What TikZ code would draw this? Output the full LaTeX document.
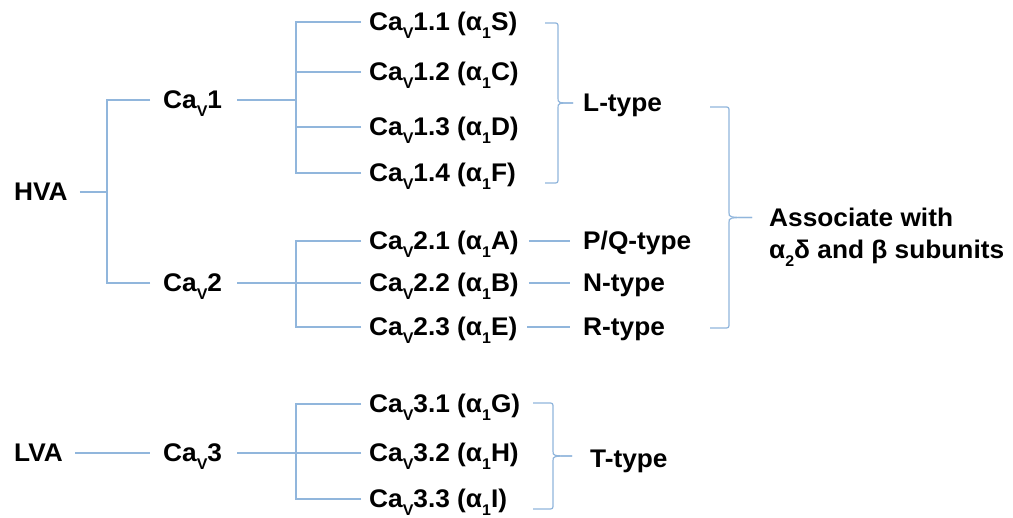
\documentclass[tikz,border=0pt]{standalone}
\usepackage{fontspec}
\setmainfont{Liberation Sans}[FakeStretch=1.03]
\definecolor{lnc}{RGB}{145,182,220}
\newcommand\mysub[1]{\raisebox{-0.28em}{\fontsize{15.5}{15.5}\selectfont #1}}
\newcommand\mybrace[5]{%
  \pgfmathsetmacro\ym{(#3+#4)/2}%
  \draw[ln] (#1,#3) -- ({#2-5},#3) .. controls (#2,#3) .. (#2,{#3+5}) -- (#2,{\ym-5}) .. controls (#2,\ym) .. (#5,\ym);
  \draw[ln] (#1,#4) -- ({#2-5},#4) .. controls (#2,#4) .. (#2,{#4-5}) -- (#2,{\ym+5}) .. controls (#2,\ym) .. (#5,\ym);
}
\begin{document}
\begin{tikzpicture}[x=1pt,y=-1pt,
  ln/.style={draw=lnc,line width=1.2pt},
  lbl/.style={anchor=west,inner sep=0pt,text height=18pt,text depth=0pt,
    font=\fontsize{25.5}{30}\selectfont\bfseries}]
\useasboundingbox[fill=white] (0,0) rectangle (1013,518);
% nodes
\node[lbl] (hva) at (14,192) {HVA};
\node[lbl] (cav1) at (163,100) {Ca\mysub{V}1};
\node[lbl] (cav2) at (163,283) {Ca\mysub{V}2};
\node[lbl] (c11) at (369,22) {Ca\mysub{V}1.1 (α\mysub{1}S)};
\node[lbl] (c12) at (369,72) {Ca\mysub{V}1.2 (α\mysub{1}C)};
\node[lbl] (c13) at (369,127) {Ca\mysub{V}1.3 (α\mysub{1}D)};
\node[lbl] (c14) at (369,173) {Ca\mysub{V}1.4 (α\mysub{1}F)};
\node[lbl] (c21) at (369,241) {Ca\mysub{V}2.1 (α\mysub{1}A)};
\node[lbl] (c22) at (369,283) {Ca\mysub{V}2.2 (α\mysub{1}B)};
\node[lbl] (c23) at (369,327) {Ca\mysub{V}2.3 (α\mysub{1}E)};
\node[lbl] (lt) at (583,103) {L-type};
\node[lbl] (pq) at (583,241) {P/Q-type};
\node[lbl] (nt) at (583,283) {N-type};
\node[lbl] (rt) at (583,327) {R-type};
\node[lbl] (as1) at (769,218) {Associate with};
\node[lbl] (as2) at (769,250) {α\mysub{2}δ and β subunits};
\node[lbl] (lva) at (14,453) {LVA};
\node[lbl] (cav3) at (163,453) {Ca\mysub{V}3};
\node[lbl] (c31) at (369,404) {Ca\mysub{V}3.1 (α\mysub{1}G)};
\node[lbl] (c32) at (369,453) {Ca\mysub{V}3.2 (α\mysub{1}H)};
\node[lbl] (c33) at (369,499) {Ca\mysub{V}3.3 (α\mysub{1}I)};
\node[lbl] (tt) at (590,459) {T-type};
% junctions
\coordinate (j1) at (107,192);
\coordinate (j2) at (296,100);
\coordinate (j3) at (296,283);
\coordinate (j4) at (296,453);
% tree connectors
\draw[ln] ([xshift=12pt]hva.east) -- (j1);
\draw[ln] ([xshift=-13pt]cav1.west) -| (j1);
\draw[ln] ([xshift=-13pt]cav2.west) -| (j1);
\draw[ln] ([xshift=15pt]cav1.east) -- (j2);
\draw[ln] ([xshift=15pt]cav2.east) -- (j3);
\draw[ln] ([xshift=12pt]lva.east) -- ([xshift=-13pt]cav3.west);
\draw[ln] ([xshift=15pt]cav3.east) -- (j4);
\foreach \n in {c11,c12,c13,c14} \draw[ln] ([xshift=-8pt]\n.west) -| (j2);
\foreach \n in {c21,c22,c23} \draw[ln] ([xshift=-8pt]\n.west) -| (j3);
\foreach \n in {c31,c32,c33} \draw[ln] ([xshift=-8pt]\n.west) -| (j4);
\draw[ln] ([xshift=10pt]c21.east) -- ([xshift=-13pt]pq.west);
\draw[ln] ([xshift=10pt]c22.east) -- ([xshift=-13pt]nt.west);
\draw[ln] ([xshift=10pt]c23.east) -- ([xshift=-13pt]rt.west);
% braces
\mybrace{545}{558}{23}{183}{573}
\mybrace{710}{729}{107}{328}{752}
\mybrace{533}{553}{403}{509}{572}
\end{tikzpicture}
\end{document}
